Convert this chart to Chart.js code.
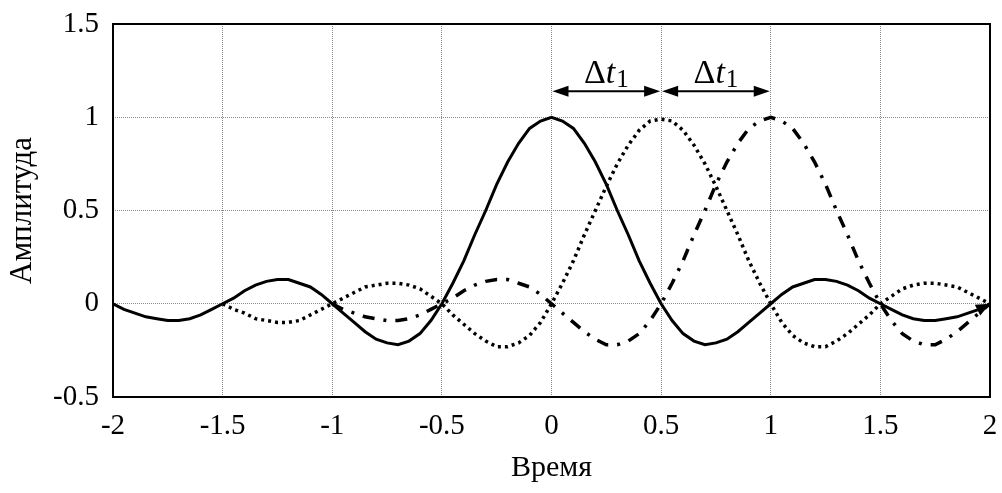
<!DOCTYPE html>
<html>
<head>
<meta charset="utf-8">
<script src="https://cdn.jsdelivr.net/npm/chart.js@4/dist/chart.umd.min.js"></script>
<style>
  html, body { margin: 0; padding: 0; background: #fff; }
  #wrap { width: 1002px; height: 493px; }
</style>
</head>
<body>
<div id="wrap"><canvas id="sincChart"></canvas></div>
<script>
// Время (ось X), шаг 0.05
var times = [-2, -1.95, -1.9, -1.85, -1.8, -1.75, -1.7, -1.65, -1.6, -1.55,
    -1.5, -1.45, -1.4, -1.35, -1.3, -1.25, -1.2, -1.15, -1.1, -1.05,
    -1, -0.95, -0.9, -0.85, -0.8, -0.75, -0.7, -0.65, -0.6, -0.55,
    -0.5, -0.45, -0.4, -0.35, -0.3, -0.25, -0.2, -0.15, -0.1, -0.05,
    0,
    0.05, 0.1, 0.15, 0.2, 0.25, 0.3, 0.35, 0.4, 0.45, 0.5,
    0.55, 0.6, 0.65, 0.7, 0.75, 0.8, 0.85, 0.9, 0.95, 1,
    1.05, 1.1, 1.15, 1.2, 1.25, 1.3, 1.35, 1.4, 1.45, 1.5,
    1.55, 1.6, 1.65, 1.7, 1.75, 1.8, 1.85, 1.9, 1.95, 2];

// Сплошная линия (центр 0)
var solidValues = [0, -0.03, -0.05, -0.07, -0.08, -0.09, -0.09, -0.08, -0.06, -0.03,
    0, 0.03, 0.07, 0.1, 0.12, 0.13, 0.13, 0.11, 0.09, 0.05,
    0, -0.05, -0.1, -0.15, -0.19, -0.21, -0.22, -0.2, -0.16, -0.09,
    0, 0.11, 0.23, 0.37, 0.5, 0.64, 0.76, 0.86, 0.94, 0.98,
    1,
    0.98, 0.94, 0.86, 0.76, 0.64, 0.5, 0.37, 0.23, 0.11, 0,
    -0.09, -0.16, -0.2, -0.22, -0.21, -0.19, -0.15, -0.1, -0.05, 0,
    0.05, 0.09, 0.11, 0.13, 0.13, 0.12, 0.1, 0.07, 0.03, 0,
    -0.03, -0.06, -0.08, -0.09, -0.09, -0.08, -0.07, -0.05, -0.03, 0];

// Пунктир (центр 0.5), начинается с -1.5
var dottedValues = [null, null, null, null, null, null, null, null, null, null,
    0, -0.03, -0.05, -0.08, -0.09, -0.1, -0.1, -0.09, -0.06, -0.03,
    0, 0.03, 0.06, 0.09, 0.1, 0.11, 0.11, 0.1, 0.08, 0.04,
    0, -0.06, -0.11, -0.16, -0.2, -0.23, -0.23, -0.21, -0.17, -0.1,
    0,
    0.11, 0.23, 0.37, 0.5, 0.63, 0.75, 0.85, 0.93, 0.98, 0.99,
    0.98, 0.93, 0.85, 0.75, 0.63, 0.5, 0.37, 0.23, 0.11, 0,
    -0.1, -0.17, -0.21, -0.23, -0.23, -0.2, -0.16, -0.11, -0.06, 0,
    0.04, 0.08, 0.1, 0.11, 0.11, 0.1, 0.09, 0.06, 0.03, 0];

// Штрих-пунктир (центр 1), начинается с -1
var dashDotValues = [null, null, null, null, null, null, null, null, null, null,
    null, null, null, null, null, null, null, null, null, null,
    0, -0.03, -0.05, -0.07, -0.08, -0.09, -0.09, -0.08, -0.06, -0.03,
    0, 0.03, 0.07, 0.1, 0.12, 0.13, 0.13, 0.11, 0.09, 0.05,
    0,
    -0.05, -0.1, -0.15, -0.19, -0.22, -0.22, -0.2, -0.16, -0.09, 0,
    0.11, 0.23, 0.37, 0.5, 0.64, 0.76, 0.86, 0.94, 0.98, 1,
    0.98, 0.94, 0.86, 0.76, 0.64, 0.5, 0.37, 0.23, 0.11, 0,
    -0.09, -0.16, -0.2, -0.22, -0.22, -0.19, -0.15, -0.1, -0.05, 0];

var xTicks = [-2, -1.5, -1, -0.5, 0, 0.5, 1, 1.5, 2];
var yTicks = [-0.5, 0, 0.5, 1, 1.5];

// Интервалы Δt1 (начало, конец) и высота стрелок
var deltaIntervals = [[0, 0.5], [0.5, 1]];
var deltaLevel = 1.14;
var deltaLabelLevel = 1.24;

function toPoints(vals) {
    var pts = [];
    for (var i = 0; i < times.length; i++) {
        if (vals[i] !== null) pts.push({ x: times[i], y: vals[i] });
    }
    return pts;
}

var serif = "'Liberation Serif', 'Times New Roman', serif";

function arrowHead(ctx, x0, y0, x1, y1, len, half) {
    var a = Math.atan2(y1 - y0, x1 - x0);
    ctx.beginPath();
    ctx.moveTo(x1, y1);
    ctx.lineTo(x1 - len * Math.cos(a) + half * Math.sin(a), y1 - len * Math.sin(a) - half * Math.cos(a));
    ctx.lineTo(x1 - len * Math.cos(a) - half * Math.sin(a), y1 - len * Math.sin(a) + half * Math.cos(a));
    ctx.closePath();
    ctx.fill();
}

var extrasPlugin = {
    id: 'extras',
    afterDatasetsDraw: function (chart) {
        var ctx = chart.ctx;
        var area = chart.chartArea;
        var xs = chart.scales.x, ys = chart.scales.y;
        ctx.save();
        // рамка
        ctx.strokeStyle = '#000';
        ctx.lineWidth = 2;
        ctx.strokeRect(area.left, area.top, area.right - area.left, area.bottom - area.top);

        // стрелка на конце сплошной линии
        var n = times.length;
        ctx.fillStyle = '#000';
        arrowHead(ctx, xs.getPixelForValue(times[n - 2]), ys.getPixelForValue(solidValues[n - 2]),
            xs.getPixelForValue(times[n - 1]), ys.getPixelForValue(solidValues[n - 1]), 14, 6);

        // стрелки Δt1
        var yA = ys.getPixelForValue(deltaLevel);
        var yL = ys.getPixelForValue(deltaLabelLevel);
        deltaIntervals.forEach(function (iv) {
            var xa = xs.getPixelForValue(iv[0]), xb = xs.getPixelForValue(iv[1]);
            ctx.lineWidth = 2;
            ctx.beginPath();
            ctx.moveTo(xa + 10, yA);
            ctx.lineTo(xb - 10, yA);
            ctx.stroke();
            arrowHead(ctx, xb - 20, yA, xb - 1, yA, 16, 5.5);
            arrowHead(ctx, xa + 20, yA, xa + 1, yA, 16, 5.5);

            var f1 = '34px ' + serif, f2 = 'italic 34px ' + serif, f3 = '25px ' + serif;
            ctx.font = f1; var w1 = ctx.measureText('\u0394').width;
            ctx.font = f2; var w2 = ctx.measureText('t').width;
            ctx.font = f3; var w3 = ctx.measureText('1').width;
            var x0 = (xa + xb) / 2 - (w1 + w2 + w3 + 1) / 2;
            ctx.textBaseline = 'alphabetic';
            ctx.textAlign = 'left';
            ctx.font = f1; ctx.fillText('\u0394', x0, yL + 11);
            ctx.font = f2; ctx.fillText('t', x0 + w1, yL + 11);
            ctx.font = f3; ctx.fillText('1', x0 + w1 + w2 + 1, yL + 15);
        });
        ctx.restore();
    }
};

var gridStyle = {
    color: '#8a8a8a',
    lineWidth: 1,
    drawTicks: false
};

function plainLabel(v) { return String(v); }

var ctx = document.getElementById('sincChart').getContext('2d');
new Chart(ctx, {
    type: 'line',
    data: {
        datasets: [{
            data: toPoints(solidValues),
            borderColor: '#000',
            borderWidth: 3
        }, {
            data: toPoints(dottedValues),
            borderColor: '#000',
            borderWidth: 3.5,
            borderDash: [3, 4]
        }, {
            data: toPoints(dashDotValues),
            borderColor: '#000',
            borderWidth: 3.5,
            borderDash: [12, 9, 3, 9]
        }]
    },
    options: {
        responsive: true,
        maintainAspectRatio: false,
        animation: false,
        layout: { padding: { left: 0, right: 12, top: 0, bottom: 0 } },
        elements: { point: { radius: 0 }, line: { tension: 0 } },
        plugins: { legend: { display: false }, tooltip: { enabled: false } },
        scales: {
            x: {
                type: 'linear',
                min: -2, max: 2,
                afterBuildTicks: function (s) { s.ticks = xTicks.map(function (v) { return { value: v }; }); },
                afterFit: function (s) { s.height = 96; s.paddingLeft = 0; s.paddingRight = 0; },
                grid: gridStyle,
                border: { display: false, dash: [1, 1] },
                ticks: { color: '#000', padding: 12, font: { family: serif, size: 29 }, callback: plainLabel },
                title: { display: true, text: 'Время', color: '#000', font: { family: serif, size: 30 }, padding: { top: 4, bottom: 7 } }
            },
            y: {
                min: -0.5, max: 1.5,
                afterBuildTicks: function (s) { s.ticks = yTicks.map(function (v) { return { value: v }; }); },
                afterFit: function (s) { s.width = 113; s.paddingTop = 24; s.paddingBottom = 0; },
                grid: gridStyle,
                border: { display: false, dash: [1, 1] },
                ticks: { color: '#000', padding: 14, font: { family: serif, size: 29 }, callback: plainLabel },
                title: { display: true, text: 'Амплитуда', color: '#000', font: { family: serif, size: 31 }, padding: { top: 4, bottom: 4 } }
            }
        }
    },
    plugins: [extrasPlugin]
});
</script>
</body>
</html>
